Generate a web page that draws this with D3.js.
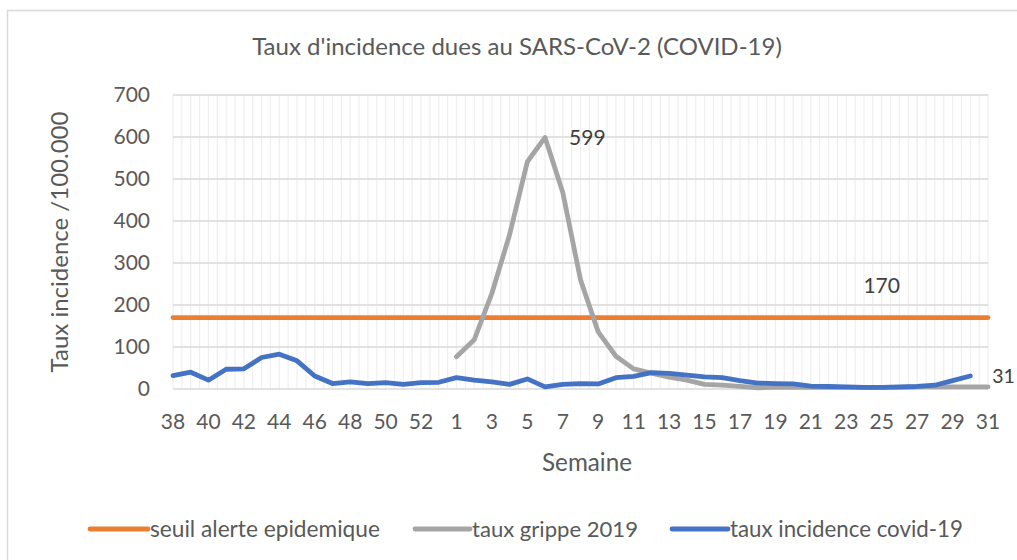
<!DOCTYPE html>
<html><head><meta charset="utf-8">
<script src="https://cdn.jsdelivr.net/npm/d3@7"></script>
<style>body{margin:0;background:#fff}svg{display:block}text{font-family:Lato,"Open Sans",sans-serif}</style>
</head><body>
<svg id="c" width="1017" height="560"></svg>
<script>
const weeks = ["38","39","40","41","42","43","44","45","46","47","48","49","50","51","52","53",
  "1","2","3","4","5","6","7","8","9","10","11","12","13","14","15","16","17","18","19","20",
  "21","22","23","24","25","26","27","28","29","30","31"];
const seuil = weeks.map(() => 170);
const grippe2019 = [null,null,null,null,null,null,null,null,null,null,null,null,null,null,null,null,
  77,117,228,368,541,599,468,260,136,78,48,38,28,21,11,9,6,3,4,4,
  4,4,4,4,4,4,5,5,5,5,5];
const covid19 = [32,40,21,47,48,75,83,67,31,13,17,13,15,11,15,16,
  27,21,17,11,24,5,11,13,12,27,30,39,37,33,29,27,20,14,13,12,
  7,6,5,4,4,5,6,9,20,31,null];
const yTicks = [0,100,200,300,400,500,600,700];
const seriesNames = ["seuil alerte epidemique","taux grippe 2019","taux incidence covid-19"];
const colors = ["#ED7D31","#A5A5A5","#4472C4"];

const svg = d3.select("#c");
const textColor = "#595959";
function fit(sel, w){ const n=sel.node(); const L=n.getComputedTextLength(); const fs=parseFloat(sel.attr("font-size")); sel.attr("font-size", fs*w/L); return sel; }

// chart border
svg.append("rect").attr("x",7.5).attr("y",10.5).attr("width",1100).attr("height",700)
  .attr("fill","none").attr("stroke","#d9d9d9").attr("stroke-width",1.5);

const x = d3.scalePoint().domain(d3.range(weeks.length)).range([173,988]);
const y = d3.scaleLinear().domain([0,700]).range([389,95]);
const step = x.step();

// vertical minor grid (every half category)
const g = svg.append("g");
g.selectAll("line.v").data(d3.range(0, weeks.length*2-1)).join("line")
  .attr("x1", d => 173 + d*step/2).attr("x2", d => 173 + d*step/2)
  .attr("y1", y(700)).attr("y2", y(0)).attr("stroke","#efefef").attr("stroke-width",1.2);
// horizontal grid
g.selectAll("line.h").data(yTicks).join("line")
  .attr("x1",173).attr("x2",988).attr("y1",d=>y(d)).attr("y2",d=>y(d))
  .attr("stroke","#d9d9d9").attr("stroke-width",1.3);

// y axis labels
svg.append("g").selectAll("text").data(yTicks).join("text")
  .attr("x",150).attr("y",d=>y(d)).attr("dy","0.35em").attr("text-anchor","end")
  .attr("font-size",21).attr("fill",textColor).text(d=>d);
// x axis labels
svg.append("g").selectAll("text").data(d3.range(0,weeks.length,2)).join("text")
  .attr("x",d=>x(d)).attr("y",422).attr("dy","0.35em").attr("text-anchor","middle")
  .attr("font-size",21).attr("fill",textColor).text(d=>weeks[d]);

// lines
const line = d3.line().defined(d=>d!=null).x((d,i)=>x(i)).y(d=>y(d));
[seuil, grippe2019, covid19].forEach((s,k)=>{
  svg.append("path").datum(s).attr("d",line).attr("fill","none")
    .attr("stroke",colors[k]).attr("stroke-width",4.8).attr("stroke-linejoin","round").attr("stroke-linecap","round");
});

// data labels
const lbl = (txt, xx, yy, anchor, fs) => svg.append("text").attr("x",xx).attr("y",yy).attr("dy","0.35em")
  .attr("text-anchor",anchor).attr("font-size",fs).attr("fill","#404040").text(txt);
lbl(grippe2019[21], x(21)+24, y(grippe2019[21]), "start", 21);
lbl(seuil[40], x(40), y(seuil[40])-32, "middle", 21);
lbl(covid19[45], x(45)+22, y(covid19[45]), "start", 19.5);

// title
fit(svg.append("text").attr("x",517).attr("y",47).attr("dy","0.35em").attr("text-anchor","middle")
  .attr("font-size",20).attr("fill",textColor).text("Taux d'incidence dues au SARS-CoV-2 (COVID-19)"),530);
// axis titles
fit(svg.append("text").attr("x",587).attr("y",463).attr("dy","0.35em").attr("text-anchor","middle")
  .attr("font-size",20).attr("fill",textColor).text("Semaine"),90);
fit(svg.append("text").attr("transform","translate(60,242) rotate(-90)").attr("dy","0.35em").attr("text-anchor","middle")
  .attr("font-size",20).attr("fill",textColor).text("Taux incidence /100.000"),261);

// legend
const legX = [[90,148,150,230],[415,470,472,166],[672,728,730,233]];
seriesNames.forEach((n,k)=>{
  const L = legX[k];
  svg.append("line").attr("x1",L[0]).attr("x2",L[1]).attr("y1",529).attr("y2",529)
    .attr("stroke",colors[k]).attr("stroke-width",4.8).attr("stroke-linecap","round");
  fit(svg.append("text").attr("x",L[2]).attr("y",529).attr("dy","0.35em").attr("font-size",20)
    .attr("fill",textColor).text(n), L[3]);
});
</script>
</body></html>
